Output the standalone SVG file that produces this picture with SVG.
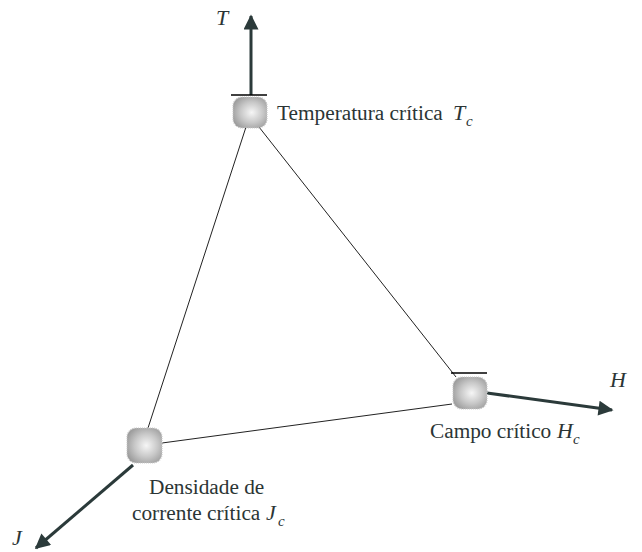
<svg xmlns="http://www.w3.org/2000/svg" width="642" height="552" viewBox="0 0 642 552">
<style>
.lbl{font-family:"Liberation Serif",serif;font-size:21.3px;fill:#2b3535}
.it{font-family:"Liberation Serif",serif;font-style:italic;font-size:22px;fill:#2b3535}
.sub{font-family:"Liberation Serif",serif;font-style:italic;font-size:15px;fill:#2b3535}
.edge{stroke:#222;stroke-width:1;fill:none}
.axis{stroke:#2b3a3a;stroke-width:3;fill:none}
.bar{stroke:#000;stroke-width:1.3}
.node{fill:url(#g);stroke:#c8c8c8;stroke-width:1.2;stroke-dasharray:1 1}
</style>
<defs>
<radialGradient id="g" cx="0.55" cy="0.5" r="0.6">
<stop offset="0" stop-color="#f6f6f6"/>
<stop offset="0.55" stop-color="#c8c8c8"/>
<stop offset="1" stop-color="#9c9c9c"/>
</radialGradient>
<marker id="ah" viewBox="0 0 10 10" refX="9" refY="5" markerWidth="5.5" markerHeight="5" markerUnits="strokeWidth" orient="auto">
<path d="M0,0 L10,5 L0,10 z" fill="#2b3a3a"/>
</marker>
</defs>
<g id="connectors">
<line class="edge" x1="246" y1="127" x2="148" y2="428"/>
<line class="edge" x1="259" y1="127" x2="456" y2="377"/>
<line class="edge" x1="162" y1="443" x2="452" y2="404"/>
<line class="axis" x1="251" y1="95" x2="251" y2="16" marker-end="url(#ah)"/>
<line class="axis" x1="487" y1="393" x2="612" y2="410" marker-end="url(#ah)"/>
<line class="axis" x1="133" y1="465" x2="36" y2="548" marker-end="url(#ah)"/>
</g>
<g id="node-T">
<line class="bar" x1="231" y1="95" x2="267" y2="95"/>
<rect class="node" x="233" y="97" width="34" height="31" rx="9"/>
<text class="lbl" x="277" y="120">Temperatura crítica</text>
<text class="it" x="453" y="120">T</text><text class="sub" x="466" y="126">c</text>
<text class="it" x="216" y="25">T</text>
</g>
<g id="node-H">
<line class="bar" x1="451" y1="373" x2="487" y2="373"/>
<rect class="node" x="453" y="377" width="34" height="32" rx="9"/>
<text class="lbl" x="430" y="438">Campo crítico</text>
<text class="it" x="557" y="438">H</text><text class="sub" x="573" y="444">c</text>
<text class="it" x="610" y="387">H</text>
</g>
<g id="node-J">
<rect class="node" x="127" y="428" width="35" height="35" rx="9"/>
<text class="lbl" x="149" y="494">Densidade de</text>
<text class="lbl" x="132" y="520">corrente crítica</text>
<text class="it" x="266" y="520">J</text><text class="sub" x="278" y="526">c</text>
<text class="it" x="12" y="545">J</text>
</g>
</svg>
